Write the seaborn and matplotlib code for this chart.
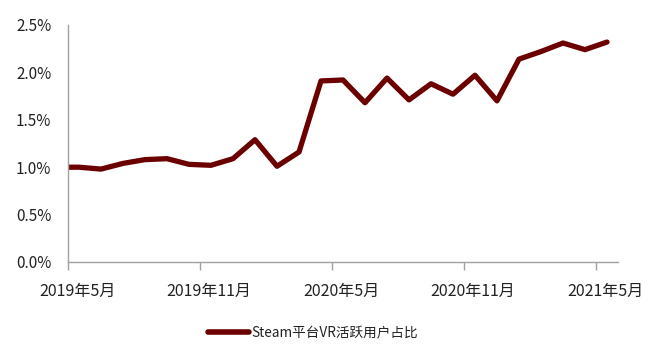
import matplotlib
matplotlib.use("Agg")
import matplotlib.pyplot as plt
import matplotlib.transforms as mtransforms
import seaborn as sns
import pandas as pd
from matplotlib.ticker import FuncFormatter

# month offset from 2019年5月
month_pos = [0, 0.5, 1.5, 2.5, 3.5, 4.5, 5.5, 6.5, 7.5, 8.5, 9.5, 10.5, 11.5,
             12.5, 13.5, 14.5, 15.5, 16.5, 17.5, 18.5, 19.5, 20.5, 21.5, 22.5, 23.5, 24.5]
vr_share = [1.00, 1.00, 0.98, 1.04, 1.08, 1.09, 1.03, 1.02, 1.09, 1.29, 1.01, 1.16,
            1.91, 1.92, 1.68, 1.94, 1.71, 1.88, 1.77, 1.97, 1.70, 2.14, 2.22, 2.31, 2.24, 2.32]
tick_pos = [0, 6, 12, 18, 24]
tick_labels = ["2019年5月", "2019年11月", "2020年5月", "2020年11月", "2021年5月"]
series_name = "Steam平台VR活跃用户占比"

df = pd.DataFrame({"x": month_pos, "y": vr_share, "s": series_name})

sns.set_theme(style="white")
plt.rcParams["font.family"] = ["Noto Sans CJK SC", "DejaVu Sans"]

fig = plt.figure(figsize=(6.57, 3.52), dpi=100)
ax = fig.add_axes([68/657, 1 - 262/352, 550/657, 237/352])

color = "#6b0000"
sns.lineplot(data=df, x="x", y="y", hue="s", palette=[color], ax=ax,
             linewidth=3.8, legend=True)

ax.set_xlim(0, 25)
ax.set_ylim(0, 2.5)
ax.set_yticks([0, 0.5, 1.0, 1.5, 2.0, 2.5])
ax.yaxis.set_major_formatter(FuncFormatter(lambda v, p: f"{v:.1f}%"))
ax.set_xticks(tick_pos)
ax.set_xticklabels(tick_labels)
ax.set_xlabel("")
ax.set_ylabel("")

for s in ["top", "right"]:
    ax.spines[s].set_visible(False)
for s in ["left", "bottom"]:
    ax.spines[s].set_color("#a0a0a0")
    ax.spines[s].set_linewidth(1.0)

ax.tick_params(axis="x", which="major", bottom=True, length=6, width=1,
               color="#a0a0a0", pad=9, labelsize=11.5, labelcolor="#222222")
ax.tick_params(axis="y", left=False, length=0, pad=12, labelsize=11, labelcolor="#222222")

offset = mtransforms.ScaledTranslation(9/100, 0, fig.dpi_scale_trans)
for lbl in ax.get_xticklabels():
    lbl.set_transform(lbl.get_transform() + offset)

leg = ax.legend(loc="center", bbox_to_anchor=(313/657, 1 - 333/352),
                bbox_transform=fig.transFigure, frameon=False, fontsize=9.8,
                handlelength=3.0, handletextpad=0.15)
for line in leg.get_lines():
    line.set_linewidth(4)
for t in leg.get_texts():
    t.set_color("#222222")

fig.savefig("out.png", dpi=100)
